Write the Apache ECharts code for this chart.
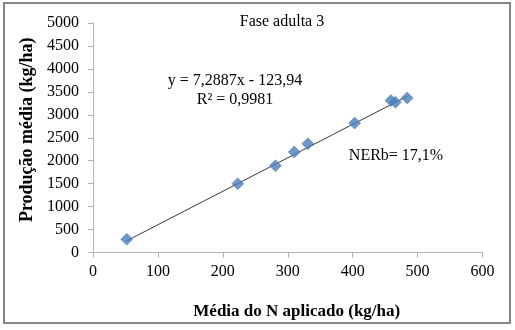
<!DOCTYPE html>
<html>
<head>
<meta charset="utf-8">
<script src="https://cdn.jsdelivr.net/npm/echarts@6/dist/echarts.min.js"></script>
<style>
html,body{margin:0;padding:0;background:#fff;}
#chart{width:515px;height:330px;}
</style>
</head>
<body>
<div id="chart"></div>
<script>
// Data
const nApplied = [52, 223, 281, 310, 331, 403, 459, 466, 484];
const production = [290, 1500, 1890, 2190, 2370, 2820, 3310, 3275, 3365];
const trendX = [52, 484];
const trendY = [255, 3404];
const xTicks = [0, 100, 200, 300, 400, 500, 600];
const yTicks = [0, 500, 1000, 1500, 2000, 2500, 3000, 3500, 4000, 4500, 5000];

const titleText = 'Fase adulta 3';
const equationText = 'y = 7,2887x - 123,94';
const r2Text = 'R² = 0,9981';
const nerbText = 'NERb= 17,1%';
const xName = 'Média do N aplicado (kg/ha)';
const yName = 'Produção média (kg/ha)';

const FONT = 'Liberation Serif';

const chart = echarts.init(document.getElementById('chart'), null, {renderer: 'canvas'});

const points = nApplied.map((x, i) => [x, production[i]]);
const trend = trendX.map((x, i) => [x, trendY[i]]);

chart.setOption({
  animation: false,
  backgroundColor: '#fff',
  textStyle: {fontFamily: FONT},
  grid: {left: 93, right: 32.5, top: 23, bottom: 77.5, containLabel: false},
  xAxis: {
    type: 'value',
    min: xTicks[0], max: xTicks[xTicks.length - 1], interval: 100,
    name: xName,
    nameLocation: 'middle',
    nameGap: 51,
    nameTextStyle: {fontFamily: FONT, fontWeight: 'bold', fontSize: 17, color: '#000', padding: [0, 0, 0, 18]},
    axisLine: {show: true, lineStyle: {color: '#b3b3b3', width: 1}},
    axisTick: {show: true, length: 5, lineStyle: {color: '#b3b3b3'}},
    axisLabel: {fontFamily: FONT, fontSize: 16, color: '#000', margin: 11, formatter: v => String(v)},
    splitLine: {show: false}
  },
  yAxis: {
    type: 'value',
    min: yTicks[0], max: yTicks[yTicks.length - 1], interval: 500,
    name: yName,
    nameLocation: 'middle',
    nameGap: 50,
    nameTextStyle: {fontFamily: FONT, fontWeight: 'bold', fontSize: 18, color: '#000', padding: [0, 0, 0, 16]},
    axisLine: {show: true, lineStyle: {color: '#b3b3b3', width: 1}},
    axisTick: {show: true, length: 5, lineStyle: {color: '#b3b3b3'}},
    axisLabel: {fontFamily: FONT, fontSize: 16, color: '#000', margin: 14, formatter: v => String(v)},
    splitLine: {show: false}
  },
  series: [
    {
      type: 'line',
      data: trend,
      symbol: 'none',
      lineStyle: {color: '#3a3a3a', width: 1},
      z: 2
    },
    {
      type: 'scatter',
      data: points,
      symbol: 'diamond',
      symbolSize: 12,
      itemStyle: {color: '#4a7ebb', borderColor: '#3b6aa3', borderWidth: 0.5},
      z: 3
    }
  ],
  graphic: [
    {type: 'rect', shape: {x: 4, y: 3, width: 506, height: 320}, style: {fill: 'none', stroke: '#858585', lineWidth: 2}, silent: true},
    {type: 'text', x: 282, y: 22, style: {text: titleText, font: '16px ' + FONT, fill: '#000', textAlign: 'center', textVerticalAlign: 'middle'}},
    {type: 'text', x: 235, y: 81, style: {text: equationText, font: '16px ' + FONT, fill: '#000', textAlign: 'center', textVerticalAlign: 'middle'}},
    {type: 'text', x: 235, y: 100, style: {text: r2Text, font: '16px ' + FONT, fill: '#000', textAlign: 'center', textVerticalAlign: 'middle'}},
    {type: 'text', x: 396, y: 156, style: {text: nerbText, font: '16px ' + FONT, fill: '#000', textAlign: 'center', textVerticalAlign: 'middle'}}
  ]
});
</script>
</body>
</html>
